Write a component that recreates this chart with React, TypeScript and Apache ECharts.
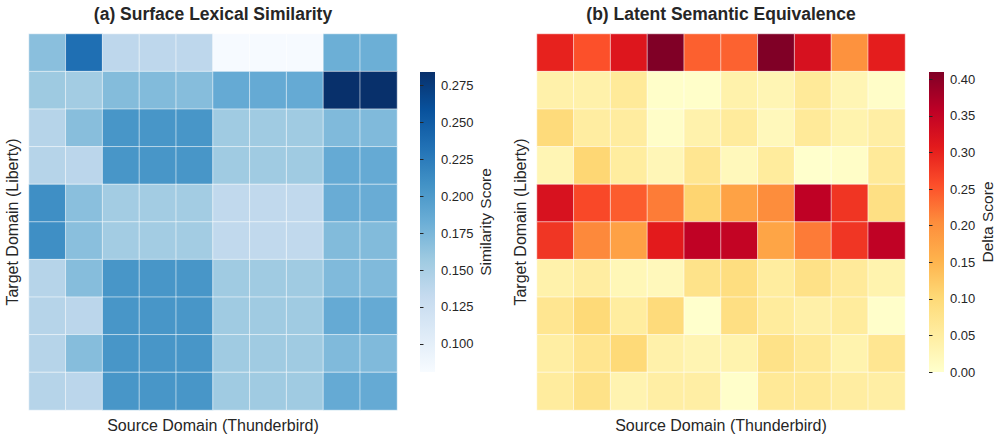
import { useEffect, useRef } from "react";
import * as echarts from "echarts";

const sourceDomains = ["0", "1", "2", "3", "4", "5", "6", "7", "8", "9"];
const targetDomains = ["0", "1", "2", "3", "4", "5", "6", "7", "8", "9"];

const lexicalSimilarity = [
  [0.167, 0.235, 0.137, 0.137, 0.137, 0.082, 0.082, 0.082, 0.182, 0.182],
  [0.157, 0.154, 0.170, 0.171, 0.169, 0.186, 0.186, 0.186, 0.284, 0.284],
  [0.142, 0.168, 0.204, 0.204, 0.204, 0.156, 0.156, 0.156, 0.172, 0.172],
  [0.142, 0.139, 0.204, 0.204, 0.204, 0.156, 0.156, 0.156, 0.186, 0.186],
  [0.210, 0.167, 0.154, 0.154, 0.154, 0.135, 0.135, 0.135, 0.184, 0.184],
  [0.210, 0.167, 0.154, 0.154, 0.154, 0.135, 0.135, 0.135, 0.171, 0.171],
  [0.142, 0.169, 0.204, 0.204, 0.204, 0.156, 0.156, 0.156, 0.172, 0.172],
  [0.142, 0.139, 0.204, 0.204, 0.204, 0.156, 0.156, 0.156, 0.186, 0.186],
  [0.142, 0.169, 0.204, 0.204, 0.204, 0.156, 0.156, 0.156, 0.172, 0.172],
  [0.142, 0.139, 0.204, 0.204, 0.204, 0.156, 0.156, 0.156, 0.186, 0.186],
];

const deltaScore = [
  [0.300, 0.255, 0.315, 0.410, 0.242, 0.240, 0.410, 0.325, 0.198, 0.305],
  [0.040, 0.040, 0.060, 0.003, 0.004, 0.038, 0.028, 0.060, 0.028, 0.005],
  [0.097, 0.050, 0.053, 0.005, 0.037, 0.056, 0.020, 0.060, 0.035, 0.047],
  [0.028, 0.105, 0.052, 0.025, 0.070, 0.020, 0.055, 0.000, 0.006, 0.060],
  [0.324, 0.262, 0.245, 0.219, 0.108, 0.176, 0.205, 0.356, 0.281, 0.085],
  [0.280, 0.208, 0.177, 0.308, 0.355, 0.350, 0.172, 0.220, 0.280, 0.355],
  [0.038, 0.050, 0.024, 0.020, 0.078, 0.090, 0.052, 0.082, 0.058, 0.035],
  [0.070, 0.100, 0.052, 0.097, 0.000, 0.087, 0.055, 0.042, 0.055, 0.002],
  [0.048, 0.072, 0.100, 0.040, 0.030, 0.035, 0.080, 0.062, 0.035, 0.070],
  [0.054, 0.080, 0.033, 0.047, 0.047, 0.002, 0.062, 0.062, 0.050, 0.047],
];

const lexicalRange = [0.081, 0.284];
const deltaRange = [0.0, 0.41];
const lexicalTicks = [0.1, 0.125, 0.15, 0.175, 0.2, 0.225, 0.25, 0.275];
const deltaTicks = [0.0, 0.05, 0.1, 0.15, 0.2, 0.25, 0.3, 0.35, 0.4];

const blues = ["#f7fbff", "#deebf7", "#c6dbef", "#9ecae1", "#6baed6", "#4292c6", "#2171b5", "#08519c", "#08306b"];
const ylOrRd = ["#ffffcc", "#ffeda0", "#fed976", "#feb24c", "#fd8d3c", "#fc4e2a", "#e31a1c", "#bd0026", "#800026"];

const FONT = '"Liberation Sans", Arial, Helvetica, sans-serif';
const TXT = "#262626";

function toCells(rows: number[][]) {
  const out: number[][] = [];
  rows.forEach((row, y) => row.forEach((v, x) => out.push([x, y, v])));
  return out;
}

function gradient(colors: string[]) {
  return new echarts.graphic.LinearGradient(
    0, 1, 0, 0,
    colors.map((c, i) => ({ offset: i / (colors.length - 1), color: c }))
  );
}

function heatAxes(gi: number, yName: string) {
  const x = {
    gridIndex: gi,
    type: "category",
    data: sourceDomains,
    axisLine: { show: false },
    axisTick: { show: false },
    axisLabel: { show: false },
    splitLine: { show: false },
    name: "Source Domain (Thunderbird)",
    nameLocation: "middle",
    nameGap: 7,
    nameTextStyle: { fontFamily: FONT, fontSize: 16, color: TXT },
  };
  const y = {
    gridIndex: gi,
    type: "category",
    data: targetDomains,
    inverse: true,
    axisLine: { show: false },
    axisTick: { show: false },
    axisLabel: { show: false },
    splitLine: { show: false },
    name: yName,
    nameLocation: "middle",
    nameGap: 9,
    nameRotate: 90,
    nameTextStyle: { fontFamily: FONT, fontSize: 16, color: TXT },
  };
  return { x, y };
}

function barAxes(gi: number, range: number[], ticks: number[], digits: number, name: string, gap: number) {
  const x = { gridIndex: gi, type: "value", show: false, min: 0, max: 1 };
  const y = {
    gridIndex: gi,
    type: "value",
    position: "right",
    min: range[0],
    max: range[1],
    axisLine: { show: false },
    splitLine: { show: false },
    axisTick: {
      show: true,
      length: 3.5,
      customValues: ticks,
      lineStyle: { color: TXT, width: 1 },
    },
    axisLabel: {
      show: true,
      margin: 6,
      customValues: ticks,
      formatter: (v: number) => v.toFixed(digits),
      fontFamily: FONT,
      fontSize: 13,
      color: TXT,
    },
    name,
    nameLocation: "middle",
    nameGap: gap,
    nameRotate: 90,
    nameTextStyle: { fontFamily: FONT, fontSize: 15.5, color: TXT },
  };
  return { x, y };
}

export default function App() {
  const ref = useRef<HTMLDivElement>(null);
  useEffect(() => {
    document.body.style.margin = "0";
    const chart = echarts.init(ref.current!, null, { renderer: "svg" });
    const h0 = heatAxes(0, "Target Domain (Liberty)");
    const h1 = heatAxes(1, "Target Domain (Liberty)");
    const b0 = barAxes(2, lexicalRange, lexicalTicks, 3, "Similarity Score", 35);
    const b1 = barAxes(3, deltaRange, deltaTicks, 2, "Delta Score", 28);
    const option: any = {
      animation: false,
      backgroundColor: "#ffffff",
      textStyle: { fontFamily: FONT },
      grid: [
        { left: 29, top: 34, width: 368, height: 376 },
        { left: 537, top: 34, width: 368, height: 376 },
        { left: 420, top: 72, width: 15, height: 300, show: true, borderWidth: 0, backgroundColor: gradient(blues) },
        { left: 929, top: 72, width: 15, height: 300, show: true, borderWidth: 0, backgroundColor: gradient(ylOrRd) },
      ],
      xAxis: [h0.x, h1.x, b0.x, b1.x],
      yAxis: [h0.y, h1.y, b0.y, b1.y],
      visualMap: [
        { type: "continuous", show: false, seriesIndex: 0, min: lexicalRange[0], max: lexicalRange[1], inRange: { color: blues } },
        { type: "continuous", show: false, seriesIndex: 1, min: deltaRange[0], max: deltaRange[1], inRange: { color: ylOrRd } },
      ],
      graphic: [
        {
          type: "text", x: 213, y: 14,
          style: { text: "(a) Surface Lexical Similarity", fontFamily: FONT, fontSize: 17.5, fontWeight: "bold", fill: TXT, textAlign: "center", textVerticalAlign: "middle" },
        },
        {
          type: "text", x: 721, y: 14,
          style: { text: "(b) Latent Semantic Equivalence", fontFamily: FONT, fontSize: 17.5, fontWeight: "bold", fill: TXT, textAlign: "center", textVerticalAlign: "middle" },
        },
      ],
      series: [
        {
          type: "heatmap", xAxisIndex: 0, yAxisIndex: 0, data: toCells(lexicalSimilarity),
          itemStyle: { borderColor: "rgba(255,255,255,0.55)", borderWidth: 1 },
          emphasis: { disabled: true },
        },
        {
          type: "heatmap", xAxisIndex: 1, yAxisIndex: 1, data: toCells(deltaScore),
          itemStyle: { borderColor: "rgba(255,255,255,0.55)", borderWidth: 1 },
          emphasis: { disabled: true },
        },
      ],
    };
    chart.setOption(option);
    return () => chart.dispose();
  }, []);
  return <div ref={ref} style={{ width: 997, height: 439 }} />;
}
